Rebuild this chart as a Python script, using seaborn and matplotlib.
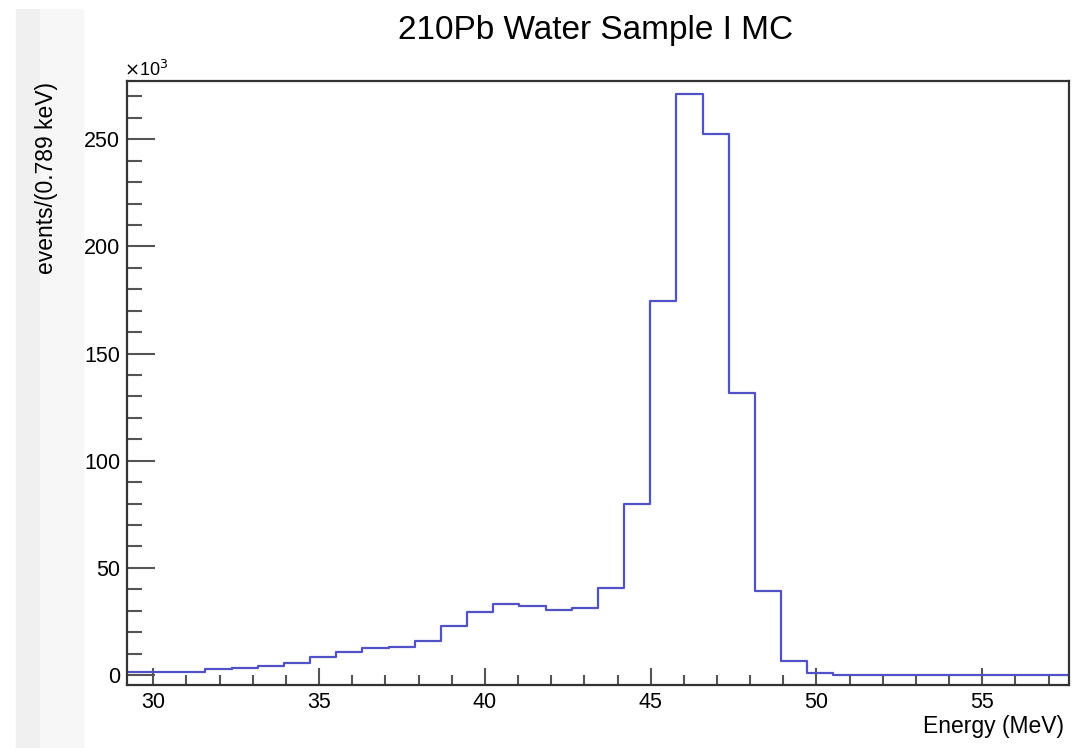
import numpy as np
import pandas as pd
import matplotlib
matplotlib.use("Agg")
import matplotlib.pyplot as plt
import seaborn as sns
from matplotlib.ticker import MultipleLocator, FuncFormatter
from matplotlib.patches import Rectangle

# ---- data ----
bin_low = 29.21          # MeV, first bin lower edge
bin_width = 0.789        # MeV
counts = [1600, 1600, 1600, 2600, 3400, 4200, 5700, 8500, 10900, 12400,
          13200, 15900, 22900, 29500, 33100, 32200, 30500, 31400, 40600, 79800,
          174500, 271000, 252300, 131400, 39200, 6500, 800, 100, 100, 100,
          100, 100, 100, 100, 100, 100]
title = "210Pb Water Sample I MC"
xlabel = "Energy (MeV)"
ylabel = "events/(0.789 keV)"

edges = bin_low + bin_width * np.arange(len(counts) + 1)
centers = 0.5 * (edges[:-1] + edges[1:])
df = pd.DataFrame({"energy": centers, "events": counts})

sns.set_theme(style="white")
plt.rcParams['font.family'] = ['Liberation Sans', 'DejaVu Sans']
plt.rcParams['text.color'] = 'black'

fig = plt.figure(figsize=(10.72, 7.48), dpi=100)
# grey strip on the left (screenshot panel)
fig.patches.append(Rectangle((16/1072, 0), 24/1072, 1 - 9/748, transform=fig.transFigure,
                             color="#f0f0f0", zorder=-1))
fig.patches.append(Rectangle((40/1072, 0), 43/1072, 1 - 9/748, transform=fig.transFigure,
                             color="#f7f7f7", zorder=-1))

ax = fig.add_axes([127/1072, 1 - 685/748, (1069 - 127)/1072, (685 - 81)/748])
ax.set_facecolor("white")

sns.histplot(data=df, x="energy", weights="events", bins=list(edges), element="step",
             fill=False, color="#5252c8", linewidth=1.6, ax=ax)

ax.set_xlim(edges[0], edges[-1])
ax.set_ylim(-4700, 277200)

ax.xaxis.set_major_locator(MultipleLocator(5))
ax.xaxis.set_minor_locator(MultipleLocator(1))
ax.yaxis.set_major_locator(MultipleLocator(50000))
ax.yaxis.set_minor_locator(MultipleLocator(10000))
ax.yaxis.set_major_formatter(FuncFormatter(lambda v, p: f"{v/1000:.0f}"))

ax.tick_params(axis="both", which="both", direction="in", colors="#555555",
               labelcolor="black", labelsize=15.5, width=1.5,
               bottom=True, left=True, top=False, right=False)
ax.tick_params(axis="y", which="major", length=20, pad=5)
ax.tick_params(axis="y", which="minor", length=11)
ax.tick_params(axis="x", which="major", length=12, pad=5)
ax.tick_params(axis="x", which="minor", length=7)

for s in ax.spines.values():
    s.set_visible(True)
    s.set_color("#333333")
    s.set_linewidth(1.6)

ax.set_xlabel("")
ax.set_ylabel("")
fig.text(1064/1072, 1 - 727/748, xlabel, ha="right", va="center", fontsize=16.5, color="black")
fig.text(47/1072, 1 - 82/748, ylabel, ha="center", va="top", rotation=90, fontsize=16.5,
         color="black")
fig.text(124/1072, 1 - 70/748, r"$\times$10$^{3}$", ha="left", va="center", fontsize=13,
         color="black")
fig.text(596/1072, 1 - 31/748, title, ha="center", va="center", fontsize=24, color="black")

fig.savefig("out.png", dpi=100, facecolor="white")
